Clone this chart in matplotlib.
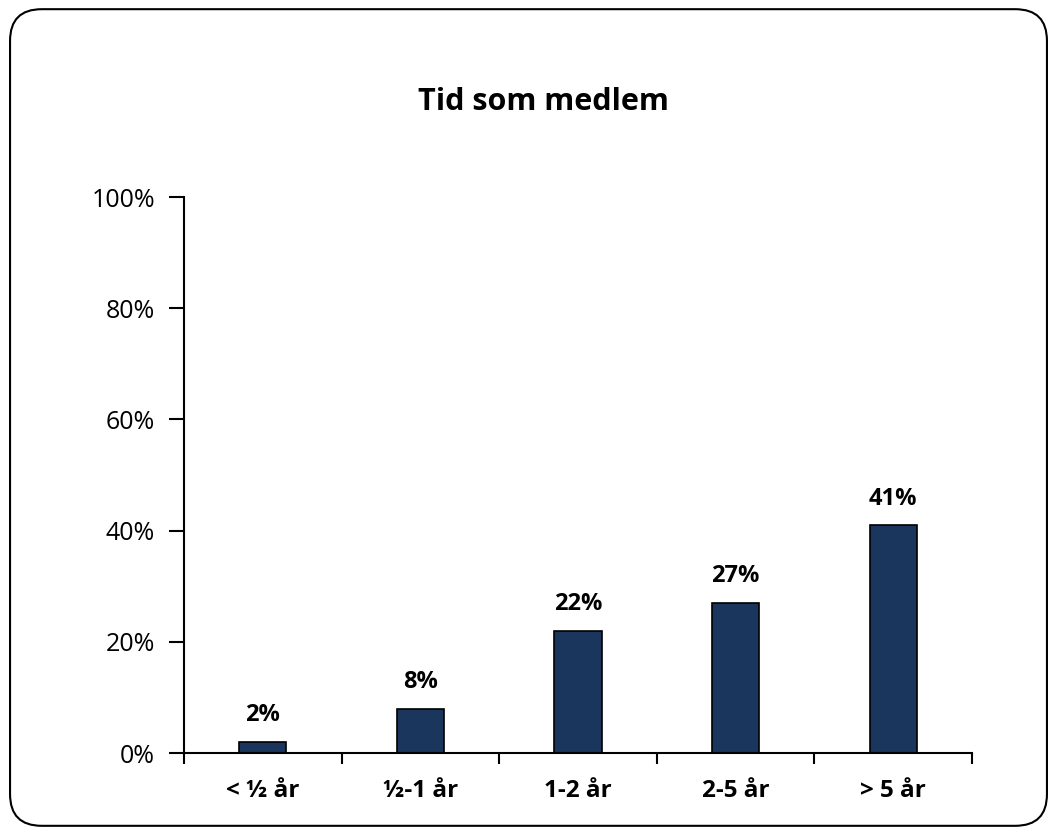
import matplotlib.pyplot as plt
from matplotlib.patches import FancyBboxPatch
from matplotlib.ticker import FixedLocator, NullFormatter, FixedFormatter

categories = ['< ½ år', '½-1 år', '1-2 år', '2-5 år', '> 5 år']
values = [2, 8, 22, 27, 41]
yticks = [0, 20, 40, 60, 80, 100]

plt.rcParams['font.family'] = ['Open Sans', 'DejaVu Sans']

fig = plt.figure(figsize=(10.57, 8.35), dpi=100)
ax = fig.add_axes([0.1741, 0.0982, 0.7455, 0.6658])

# rounded frame around the whole chart
frame = FancyBboxPatch((0.0095, 0.011), 0.981, 0.978,
                       boxstyle='round,pad=0,rounding_size=0.03',
                       transform=fig.transFigure, fill=False,
                       edgecolor='black', linewidth=1.5, mutation_aspect=1057/835)
fig.patches.append(frame)

x = range(len(categories))
ax.bar(x, values, width=0.3, color='#1b365d', edgecolor='black', linewidth=1.2)

for i, v in enumerate(values):
    ax.text(i, v + 2.6, f'{v}%', ha='center', va='bottom',
            fontsize=17, fontweight='bold')

ax.set_xlim(-0.5, len(categories) - 0.5)
ax.set_ylim(0, 100)
ax.set_yticks(yticks)
ax.set_yticklabels([f'{t}%' for t in yticks], fontsize=18)

ax.xaxis.set_major_locator(FixedLocator([i - 0.5 for i in range(len(categories) + 1)]))
ax.xaxis.set_major_formatter(NullFormatter())
ax.xaxis.set_minor_locator(FixedLocator(list(x)))
ax.xaxis.set_minor_formatter(FixedFormatter(categories))
ax.tick_params(axis='x', which='major', direction='out', length=8, width=1.5)
ax.tick_params(axis='x', which='minor', length=0, pad=19, labelsize=17.5)
for lab in ax.get_xticklabels(minor=True):
    lab.set_fontweight('bold')
ax.tick_params(axis='y', direction='out', length=11, width=1.5, pad=10)

ax.spines['top'].set_visible(False)
ax.spines['right'].set_visible(False)
ax.spines['left'].set_linewidth(1.5)
ax.spines['bottom'].set_linewidth(1.5)

fig.text(0.514, 0.878, 'Tid som medlem', ha='center', va='center',
         fontsize=22, fontweight='bold')

fig.savefig('out.png', dpi=100)
